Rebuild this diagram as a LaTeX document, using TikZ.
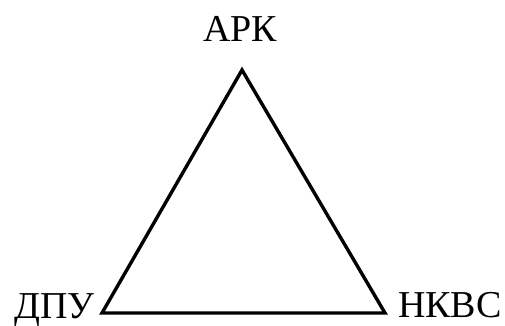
\documentclass[tikz,border=0pt]{standalone}
\usepackage{fontspec}
\setmainfont{Liberation Serif}
\begin{document}
\begin{tikzpicture}[x=1pt,y=1pt,
  lbl/.style={inner sep=0pt,font=\fontsize{38}{42}\selectfont},
  edge/.style={line width=3.4pt}]
\useasboundingbox (0,0) rectangle (505,325);
\coordinate (t) at (242,255);
\coordinate (l) at (102,12);
\coordinate (r) at (385,12);
\node[lbl,anchor=base] (arc) at (240,284) {АРК};
\node[lbl,anchor=base east] (dpu) at (95,7) {ДПУ};
\node[lbl,anchor=base west] (nkvs) at (398,8) {НКВС};
\draw[edge] (t) -- (l) -- (r) -- cycle;
\end{tikzpicture}
\end{document}
